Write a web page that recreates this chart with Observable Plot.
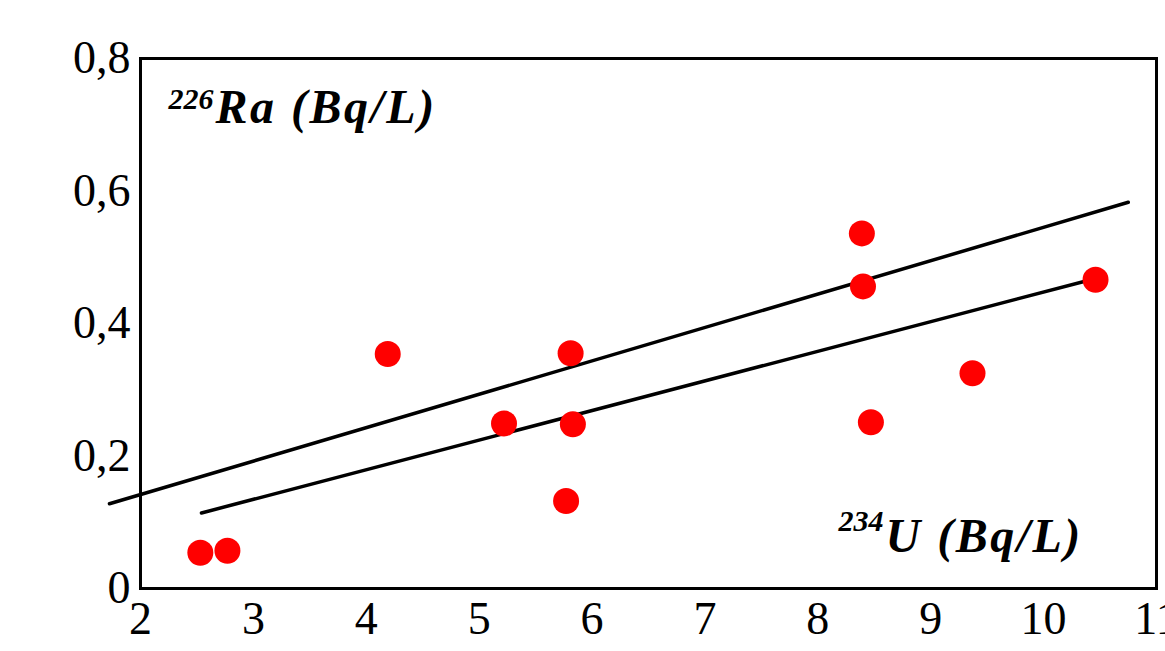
<!DOCTYPE html>
<html>
<head>
<meta charset="utf-8">
<script src="https://cdn.jsdelivr.net/npm/d3@7"></script>
<script src="https://cdn.jsdelivr.net/npm/@observablehq/plot@0.6"></script>
<style>
  html, body { margin: 0; padding: 0; background: #fff; overflow: hidden; }
  .lbl text { letter-spacing: 2.5px; }
</style>
</head>
<body>
<div id="chart"></div>
<script>
// 234U (Bq/L) vs 226Ra (Bq/L)
const u234 = [2.53, 2.77, 4.19, 5.22, 5.81, 5.83, 5.77, 8.39, 8.40, 8.47, 9.37, 10.46];
const ra226 = [0.054, 0.057, 0.354, 0.249, 0.355, 0.248, 0.132, 0.536, 0.456, 0.251, 0.325, 0.466];

// fitted lines (endpoints)
const upperLineX = [1.725, 10.75];
const upperLineY = [0.128, 0.583];
const lowerLineX = [2.54, 10.46];
const lowerLineY = [0.114, 0.468];

const xTicks = [2, 3, 4, 5, 6, 7, 8, 9, 10, 11];
const yTicks = [0, 0.2, 0.4, 0.6, 0.8];

const points = u234.map((x, i) => ({x, y: ra226[i]}));
const upper = upperLineX.map((x, i) => ({x, y: upperLineY[i]}));
const lower = lowerLineX.map((x, i) => ({x, y: lowerLineY[i]}));

const fmt = d => String(d).replace(".", ",");
const serif = "'Liberation Serif', 'Times New Roman', serif";

const chart = Plot.plot({
  width: 1165,
  height: 651,
  marginLeft: 140,
  marginRight: 9,
  marginTop: 58,
  marginBottom: 63,
  style: {fontFamily: serif, fontSize: "46px", color: "#000", background: "#fff"},
  x: {domain: [2, 11], ticks: xTicks, tickFormat: fmt, tickSize: 0, tickPadding: 13, label: null},
  y: {domain: [0, 0.8], ticks: yTicks, tickFormat: fmt, tickSize: 0, tickPadding: 10, label: null},
  marks: [
    Plot.frame({stroke: "#000", strokeWidth: 3}),
    Plot.line(upper, {x: "x", y: "y", stroke: "#000", strokeWidth: 3.5, clip: false}),
    Plot.line(lower, {x: "x", y: "y", stroke: "#000", strokeWidth: 3.5}),
    Plot.dot(points, {x: "x", y: "y", r: 13, fill: "#ff0000", stroke: "none"}),
    Plot.text(["226"], {frameAnchor: "top-left", text: d => d, dx: 28, dy: 50, textAnchor: "start", lineAnchor: "bottom",
      fontSize: 30, fontWeight: "bold", fontStyle: "italic", fill: "#000"}),
    Plot.text(["Ra (Bq/L)"], {frameAnchor: "top-left", text: d => d, dx: 75, dy: 64, textAnchor: "start", lineAnchor: "bottom",
      fontSize: 48, fontWeight: "bold", fontStyle: "italic", fill: "#000", className: "lbl"}),
    Plot.text(["234"], {frameAnchor: "top-left", text: d => d, dx: 698, dy: 472, textAnchor: "start", lineAnchor: "bottom",
      fontSize: 30, fontWeight: "bold", fontStyle: "italic", fill: "#000"}),
    Plot.text(["U (Bq/L)"], {frameAnchor: "top-left", text: d => d, dx: 745, dy: 493, textAnchor: "start", lineAnchor: "bottom",
      fontSize: 48, fontWeight: "bold", fontStyle: "italic", fill: "#000", className: "lbl"})
  ]
});
document.getElementById("chart").appendChild(chart);
</script>
</body>
</html>
